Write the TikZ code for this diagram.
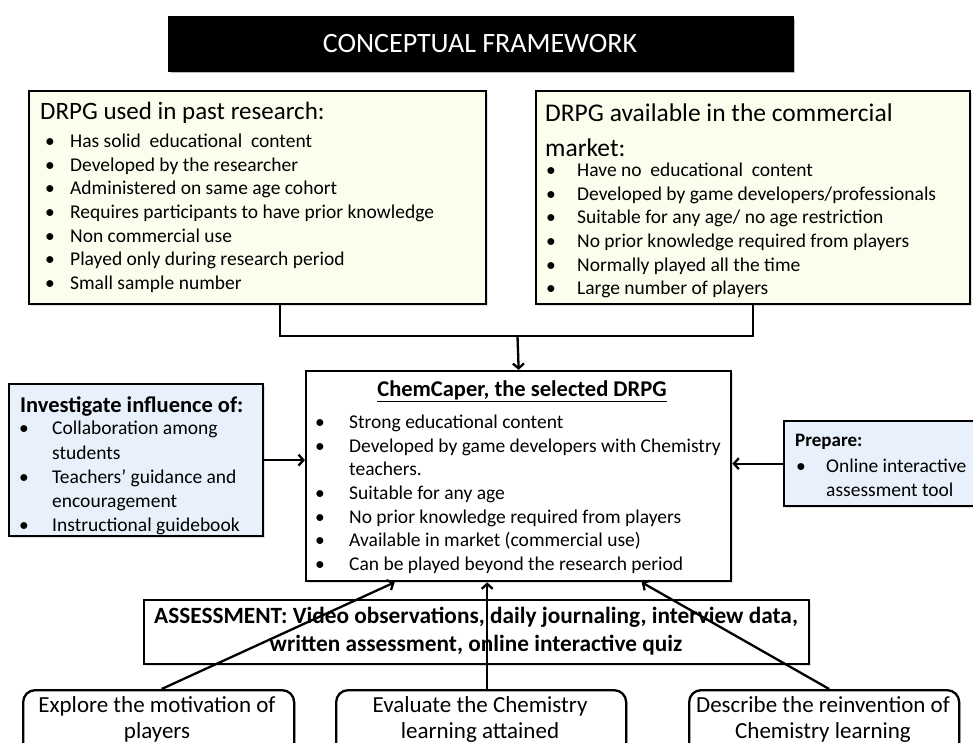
\documentclass[tikz,border=0pt]{standalone}
\usepackage{fontspec}
\setmainfont{Carlito}
\usetikzlibrary{arrows.meta,shadows}
\definecolor{cream}{HTML}{FDFDEE}
\definecolor{paleblue}{HTML}{E8F0FB}
\newcommand{\bul}[1]{\makebox[#1][l]{\textbullet}}
\newcommand{\listfont}{\fontsize{19.5}{23.6}\selectfont}
\begin{document}
\begin{tikzpicture}[x=1pt,y=-1pt,
  box/.style={draw=black,line width=2.3pt,inner sep=0pt,anchor=north west,
    drop shadow={shadow xshift=1.5pt,shadow yshift=-1.5pt,opacity=0.25}},
  ybox/.style={box,fill=cream},
  bbox/.style={box,fill=paleblue},
  wbox/.style={box,fill=white},
  rbox/.style={box,fill=white,rounded corners=12pt},
  txt/.style={inner sep=0pt,anchor=north west,align=left},
  conn/.style={line width=2.3pt},
  arr/.style={line width=2.3pt,-{Straight Barb[length=5pt,width=11pt,line width=2.3pt]}}
]
\useasboundingbox (0,0) rectangle (973,742);
\clip (0,0) rectangle (973,742);
\fill[white] (0,0) rectangle (973,742);

% title
\node[box,fill=black,draw=black,minimum width=624pt,minimum height=54pt,
  drop shadow={shadow xshift=2pt,shadow yshift=-2pt,opacity=0.35}] (title) at (168,16) {};
\node[inner sep=0pt,text=white,font=\fontsize{28}{34}\selectfont] (titleT) at (480,44) {CONCEPTUAL FRAMEWORK};

% top left box
\node[ybox,minimum width=457pt,minimum height=213pt] (past) at (28,90) {};
\node[txt,font=\fontsize{25}{31}\selectfont] (pastH) at (40,102) {DRPG used in past research:};
\node[txt,font=\listfont] (pastL) at (45,134) {%
\bul{25pt}Has solid\ \ educational\ \ content\\
\bul{25pt}Developed by the researcher\\
\bul{25pt}Administered on same age cohort\\
\bul{25pt}Requires participants to have prior knowledge\\
\bul{25pt}Non commercial use\\
\bul{25pt}Played only during research period\\
\bul{25pt}Small sample number};

% top right box
\node[ybox,minimum width=434pt,minimum height=213pt] (comm) at (535,90) {};
\node[txt,font=\fontsize{25.5}{35}\selectfont] (commH) at (545,104) {DRPG available in the commercial\\market:};
\node[txt,font=\listfont] (commL) at (546,163) {%
\bul{31pt}Have no\ \ educational\ \ content\\
\bul{31pt}Developed by game developers/professionals\\
\bul{31pt}Suitable for any age/ no age restriction\\
\bul{31pt}No prior knowledge required from players\\
\bul{31pt}Normally played all the time\\
\bul{31pt}Large number of players};

% centre box
\node[wbox,minimum width=425pt,minimum height=210pt] (chem) at (305,370) {};
\node[inner sep=0pt,font=\fontsize{22.5}{26}\selectfont\bfseries] (chemH) at (522,391) {\underline{ChemCaper, the selected DRPG}};
\node[txt,font=\listfont] (chemL) at (315,415) {%
\bul{34pt}Strong educational content\\
\bul{34pt}Developed by game developers with Chemistry\\
\hspace*{34pt}teachers.\\
\bul{34pt}Suitable for any age\\
\bul{34pt}No prior knowledge required from players\\
\bul{34pt}Available in market (commercial use)\\
\bul{34pt}Can be played beyond the research period};

% left blue box
\node[bbox,minimum width=254pt,minimum height=152pt] (inv) at (8,383) {};
\node[txt,font=\fontsize{22.5}{26}\selectfont\bfseries] (invH) at (20,396) {Investigate influence of:};
\node[txt,font=\fontsize{19.5}{24.3}\selectfont] (invL) at (19,421) {%
\bul{33pt}Collaboration among\\
\hspace*{33pt}students\\
\bul{33pt}Teachers’ guidance and\\
\hspace*{33pt}encouragement\\
\bul{33pt}Instructional guidebook};

% right blue box
\node[bbox,minimum width=190pt,minimum height=85pt] (prep) at (783,420) {};
\node[txt,font=\fontsize{19}{22}\selectfont\bfseries] (prepH) at (795,434) {Prepare:};
\node[txt,font=\listfont] (prepL) at (796,459) {%
\bul{30pt}Online interactive\\
\hspace*{30pt}assessment tool};

% assessment box
\node[wbox,minimum width=665pt,minimum height=64pt] (assess) at (143,599) {};
\node[inner sep=0pt,align=center,font=\fontsize{23.3}{28}\selectfont\bfseries] (assessT) at (476,631)
  {ASSESSMENT: Video observations, daily journaling, interview data,\\written assessment, online interactive quiz};

% bottom rounded boxes
\node[rbox,minimum width=271pt,minimum height=70pt] (explore) at (22,689) {};
\node[inner sep=0pt,align=center,font=\fontsize{23}{26}\selectfont] (exploreT) at (157,719) {Explore the motivation of\\players};
\node[rbox,minimum width=290pt,minimum height=70pt] (eval) at (335,689) {};
\node[inner sep=0pt,align=center,font=\fontsize{23}{26}\selectfont] (evalT) at (480,719) {Evaluate the Chemistry\\learning attained};
\node[rbox,minimum width=270pt,minimum height=70pt] (desc) at (688,689) {};
\node[inner sep=0pt,align=center,font=\fontsize{23}{26}\selectfont] (descT) at (823,719) {Describe the reinvention of\\Chemistry learning};

% connectors
\coordinate (mid) at (517.5,336);
\draw[conn] ([xshift=22pt]past.south) |- (mid) -| (comm.south);
\draw[arr] (mid) -- (chem.north);
\draw[arr] (inv.east) -- (inv.east -| chem.west);
\draw[arr] (prep.west) -- (prep.west -| chem.east);
\draw[arr] ([xshift=3pt]explore.north) -- ([xshift=-124pt]chem.south);
\draw[arr] ([xshift=6pt]eval.north) -- ([xshift=-31.5pt]chem.south);
\draw[arr] ([xshift=5pt]desc.north) -- ([xshift=123pt]chem.south);
\end{tikzpicture}
\end{document}
